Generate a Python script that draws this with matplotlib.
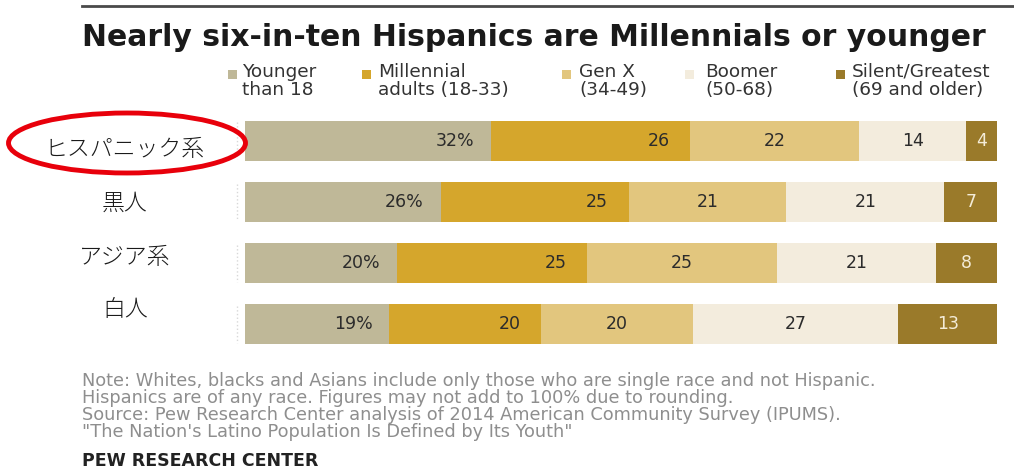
import matplotlib.pyplot as plt
from matplotlib.patches import Ellipse, Rectangle
from matplotlib.lines import Line2D

## data
groups = ['ヒスパニック系', '黒人', 'アジア系', '白人']
series = ['Younger\nthan 18', 'Millennial\nadults (18-33)', 'Gen X\n(34-49)',
          'Boomer\n(50-68)', 'Silent/Greatest\n(69 and older)']
younger = [32, 26, 20, 19]
millennial = [26, 25, 25, 20]
genx = [22, 21, 25, 20]
boomer = [14, 21, 21, 27]
silent = [4, 7, 8, 13]

notes = ['Note: Whites, blacks and Asians include only those who are single race and not Hispanic.',
         'Hispanics are of any race. Figures may not add to 100% due to rounding.',
         'Source: Pew Research Center analysis of 2014 American Community Survey (IPUMS).',
         '"The Nation\'s Latino Population Is Defined by Its Youth"']

colors = ['#bfb898', '#d5a62c', '#e2c67e', '#f3ecdd', '#9a7a2a']
txt_colors = ['#2b2b2b', '#2b2b2b', '#2b2b2b', '#2b2b2b', '#f4ecd8']

plt.rcParams['font.family'] = ['DejaVu Sans']
fig = plt.figure(figsize=(10.14, 4.68), dpi=100)
ax = fig.add_axes([245 / 1014, 1 - 355 / 468, 752 / 1014, 245 / 468])

values = [younger, millennial, genx, boomer, silent]
## rows are drawn to full width (figures don't add to exactly 100)
totals = [sum(col) for col in zip(*values)]
ypos = list(range(len(groups)))
left = [0.0] * len(groups)
for k, vals in enumerate(values):
    widths = [v * 100 / t for v, t in zip(vals, totals)]
    ax.barh(ypos, widths, left=left, height=0.65, color=colors[k], edgecolor='none')
    for i, v in enumerate(vals):
        if k == 0:
            ax.text(left[i] + widths[i] - 2.2, i, f'{v}%', ha='right', va='center',
                    fontsize=12.5, color=txt_colors[k])
        elif k == 1:
            ax.text(left[i] + widths[i] - 2.7, i, str(v), ha='right', va='center',
                    fontsize=12.5, color=txt_colors[k])
        else:
            ax.text(left[i] + widths[i] / 2, i, str(v), ha='center', va='center',
                    fontsize=12.5, color=txt_colors[k])
    left = [a + b for a, b in zip(left, widths)]

ax.set_xlim(0, 100)
ax.set_ylim(3.5, -0.5)
ax.axis('off')

## faint dotted marks at the left edge of each bar
for i in ypos:
    ax.plot([-1.0, -1.0], [i - 0.3, i + 0.3], color='#d8d8d8', lw=1, ls=':',
            clip_on=False)

## japanese row labels
label_y = [149, 203, 257, 310]
for g, yy in zip(groups, label_y):
    fig.text(125 / 1014, 1 - yy / 468, g, ha='center', va='center', fontsize=16.5,
             family=['Noto Sans CJK JP'], fontweight='light', color='#1a1a1a')

## red ellipse around first label
fig.add_artist(Ellipse((127 / 1014, 1 - 143 / 468), 237 / 1014, 60 / 468,
                       transform=fig.transFigure, fill=False,
                       edgecolor='#e8000b', linewidth=3.5))

## top rule and title
fig.add_artist(Line2D([82 / 1014, 1], [1 - 6 / 468] * 2, color='#4a4a4a', lw=2,
                      transform=fig.transFigure))
fig.text(82 / 1014, 1 - 38 / 468, 'Nearly six-in-ten Hispanics are Millennials or younger',
         ha='left', va='center', fontsize=21.5, fontweight='bold', color='#1a1a1a')

## legend
sq_x = [228, 362, 562, 685, 836]
tx_x = [242, 378, 579, 705, 852]
for k, s in enumerate(series):
    fig.add_artist(Rectangle((sq_x[k] / 1014, 1 - 79 / 468), 9 / 1014, 9 / 468,
                             transform=fig.transFigure, color=colors[k], lw=0))
    fig.text(tx_x[k] / 1014, 1 - 63 / 468, s, ha='left', va='top', fontsize=13.3,
             color='#333333', linespacing=1.0)

## footer
for j, line in enumerate(notes):
    fig.text(82 / 1014, 1 - (381 + 17 * j) / 468, line, ha='left', va='center',
             fontsize=12.8, color='#8e8e8e')
fig.text(82 / 1014, 1 - 461 / 468, 'PEW RESEARCH CENTER', ha='left', va='center',
         fontsize=12.5, fontweight='bold', color='#222222')

fig.savefig('out.png', dpi=100)
